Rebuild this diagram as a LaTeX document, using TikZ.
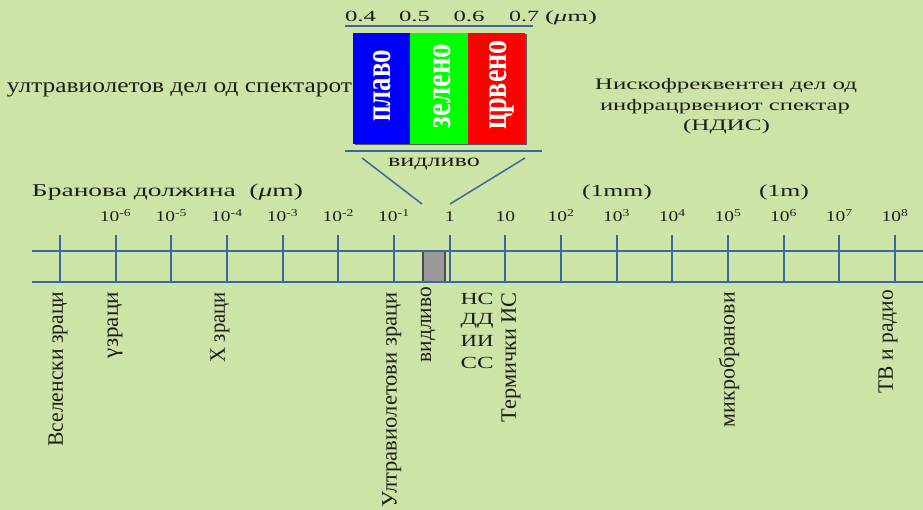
\documentclass[tikz,border=0pt]{standalone}
\usepackage{fontspec}
\setmainfont{Liberation Serif}
\usepackage{graphicx}
\definecolor{bg}{HTML}{CDE4A7}
\definecolor{axisc}{HTML}{3B68A0}
\definecolor{ink}{HTML}{1E1E1E}
\definecolor{visgray}{HTML}{999999}
\newcommand\hfitw[2]{\resizebox{#1}{\height}{#2}}
\newcommand\rfitl[2]{\rotatebox{90}{\resizebox{#1}{\height}{#2}}}
\newcommand\rboxl[3]{\rotatebox{90}{\resizebox{#1}{#2}{#3}}}
\tikzset{
  axisline/.style={draw=axisc, line width=2pt},
  thinline/.style={draw=axisc, line width=1.5pt},
  lbl/.style={anchor=base, inner sep=0pt, text=ink},
  rlbl/.style={anchor=north, inner sep=0pt, text=ink, font=\fontsize{22}{26}\selectfont},
  boxtxt/.style={inner sep=0pt, text=white, font=\fontsize{26}{30}\selectfont\bfseries},
  ticklbl/.style={anchor=base, inner sep=0pt, text=ink, font=\fontsize{15}{18}\selectfont},
  colbox/.style={anchor=north west, inner sep=0pt, minimum width=#1, minimum height=111pt},
}
\begin{document}
\begin{tikzpicture}[x=1pt, y=-1pt]
\fill[bg] (0,0) rectangle (923,510);
\useasboundingbox (0,0) rectangle (923,510);

% ---- visible spectrum box ----
\fill[black!65] (354.5,34.5) rectangle (526.5,145.5);
\node (blue)  [colbox=57pt, fill=blue]            at (353,33) {};
\node (green) [colbox=58pt, fill={rgb,255:red,0;green,255;blue,0}] at (410,33) {};
\node (red)   [colbox=57pt, fill=red]             at (468,33) {};
\node (tblue)  [boxtxt] at (382,86)  {\rboxl{72pt}{17pt}{плаво}};
\node (tgreen) [boxtxt] at (442.5,86) {\rboxl{85pt}{17pt}{зелено}};
\node (tred)   [boxtxt] at (502,85)  {\rboxl{90pt}{17pt}{црвено}};

% lines above / below the colour box
\coordinate (topL) at (345,26);
\coordinate (topR) at (533,26);
\coordinate (botL) at (345,151);
\coordinate (botR) at (542,151);
\draw[thinline] (topL) -- (topR);
\draw[thinline] (botL) -- (botR);

% scale numbers above
\begin{scope}[every node/.style={lbl, font=\fontsize{15.5}{18}\selectfont}]
\node (n04) at (360.5,22) {\hfitw{31pt}{0.4}};
\node (n05) at (414.5,22) {\hfitw{31pt}{0.5}};
\node (n06) at (469,22)   {\hfitw{31pt}{0.6}};
\node (n07) at (524,22)   {\hfitw{30pt}{0.7}};
\node (num) at (571,22)   {\hfitw{52pt}{(\textit{μ}m)}};
\end{scope}

\node (vidtop) [lbl, font=\fontsize{18}{22}\selectfont] at (434,166.5) {\hfitw{92pt}{видливо}};

% diagonals
\coordinate (dl1) at (362,158);
\coordinate (dl2) at (422,204);
\coordinate (dr1) at (525,158);
\coordinate (dr2) at (450,204);
\draw[thinline] (dl1) -- (dl2);
\draw[thinline] (dr1) -- (dr2);

% side texts
\node (uv) [lbl, font=\fontsize{21}{24}\selectfont] at (179.5,93) {\hfitw{345pt}{ултравиолетов дел од спектарот}};
\begin{scope}[every node/.style={lbl, font=\fontsize{16}{20}\selectfont}]
\node (nd1) at (726,90)    {\hfitw{262pt}{Нискофреквентен дел од}};
\node (nd2) at (725,110.5) {\hfitw{250pt}{инфрацрвениот спектар}};
\node (nd3) at (726.5,131) {\hfitw{87pt}{(НДИС)}};
\end{scope}

% axis heading
\node (wl)  [lbl, font=\fontsize{18}{22}\selectfont] at (167.5,197) {\hfitw{271pt}{Бранова должина\ \ (\textit{μ}m)}};
\node (mm)  [lbl, font=\fontsize{17}{21}\selectfont] at (617,197) {\hfitw{70pt}{(1mm)}};
\node (one) [lbl, font=\fontsize{17}{21}\selectfont] at (784,197) {\hfitw{50pt}{(1m)}};

% ---- axis ----
\coordinate (aTL) at (32,251);
\coordinate (aTR) at (923,251);
\coordinate (aBL) at (32,282);
\coordinate (aBR) at (923,282);
\node (vis) [fill=visgray, draw=black!70, line width=1.2pt, minimum width=22pt, minimum height=31pt, inner sep=0pt] at (434,266.5) {};
\draw[axisline] (aTL) -- (aTR);
\draw[axisline] (aBL) -- (aBR);
\foreach \i in {0,...,15} {
  \coordinate (tt\i) at ({60+55.667*\i},235);
  \coordinate (tb\i) at ({60+55.667*\i},282);
  \draw[axisline] (tt\i) -- (tb\i);
}
\foreach \i/\t in {1/{10\textsuperscript{-6}},2/{10\textsuperscript{-5}},3/{10\textsuperscript{-4}},4/{10\textsuperscript{-3}},5/{10\textsuperscript{-2}},6/{10\textsuperscript{-1}},7/{1},8/{10},9/{10\textsuperscript{2}},10/{10\textsuperscript{3}},11/{10\textsuperscript{4}},12/{10\textsuperscript{5}},13/{10\textsuperscript{6}},14/{10\textsuperscript{7}},15/{10\textsuperscript{8}}} {
  \node (tl\i) [ticklbl] at ({60+55.667*\i},222) {\scalebox{1.3}[1]{\t}};
}

% ---- labels below the axis ----
\node (cosm) [rlbl] at (58,291.5)  {\rfitl{155pt}{Вселенски зраци}};
\node (gam)  [rlbl] at (115,292)   {\rfitl{66pt}{γзраци}};
\node (xr)   [rlbl] at (220,292)   {\rfitl{70pt}{Х зраци}};
\node (uvr)  [rlbl] at (391.7,292) {\rfitl{215pt}{Ултравиолетови зраци}};
\node (visb) [rlbl] at (428,287)   {\rfitl{75pt}{видливо}};
\node (therm)[rlbl] at (511,292)   {\rfitl{130pt}{Термички ИС}};
\node (micro)[rlbl] at (729,292)   {\rfitl{135pt}{микробранови}};
\node (tv)   [rlbl] at (888,290)   {\rfitl{103pt}{ТВ и радио}};
\begin{scope}[every node/.style={lbl, font=\fontsize{17}{21}\selectfont}]
\node (ns1) at (477,305)   {\hfitw{33pt}{НС}};
\node (ns2) at (477,325)   {\hfitw{33pt}{ДД}};
\node (ns3) at (477,346.5) {\hfitw{33pt}{ИИ}};
\node (ns4) at (477,368)   {\hfitw{33pt}{СС}};
\end{scope}
\end{tikzpicture}
\end{document}
